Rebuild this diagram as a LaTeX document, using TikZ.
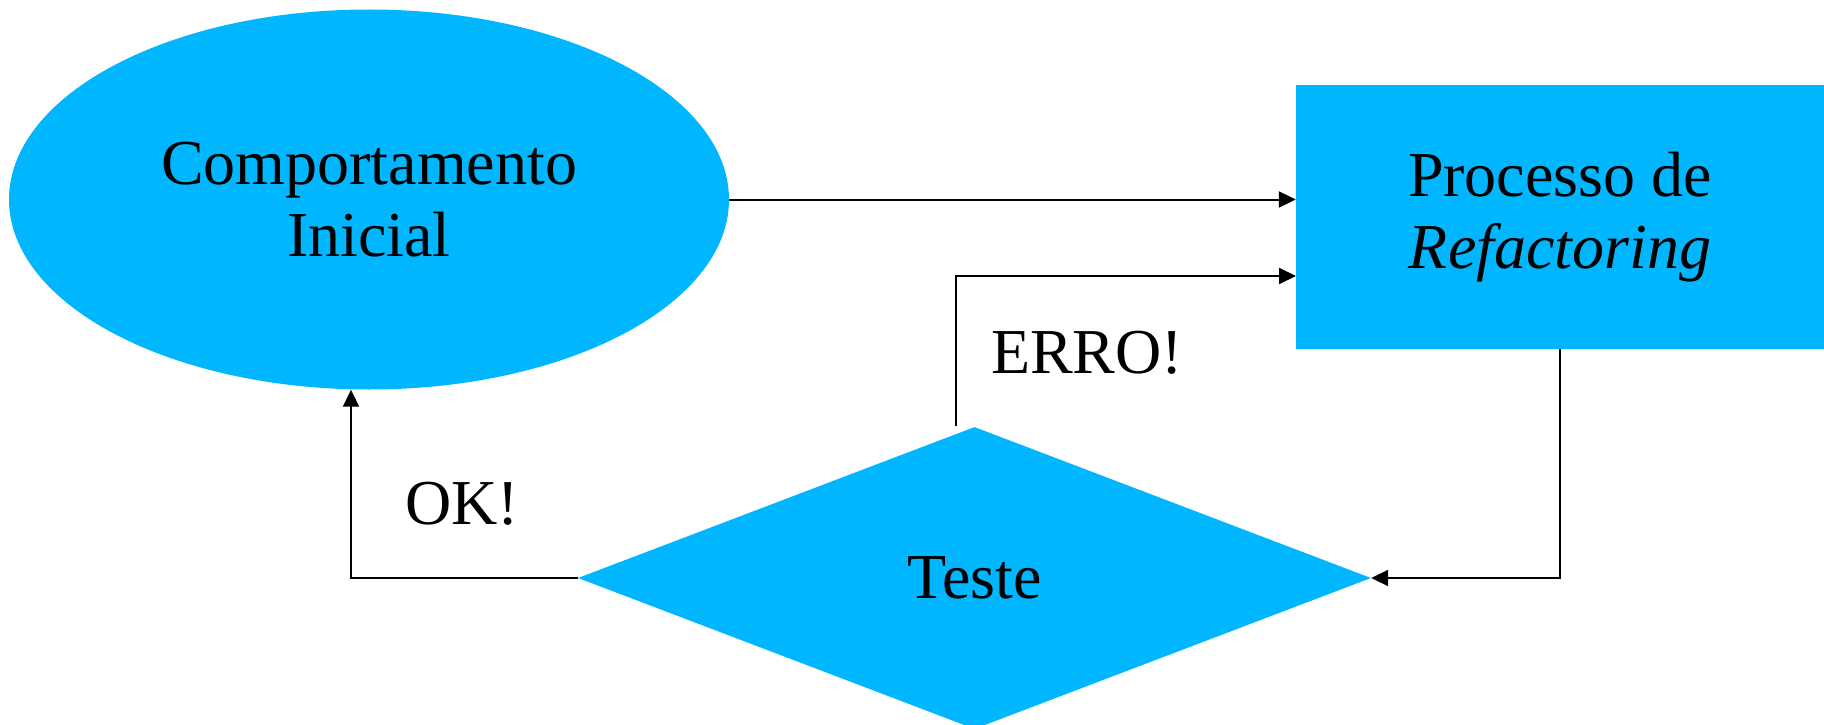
\documentclass[tikz,border=0pt]{standalone}
\usepackage{fontspec}
\setmainfont{Liberation Serif}
\usetikzlibrary{shapes.geometric,arrows.meta}
\definecolor{cy}{RGB}{0,183,255}
\begin{document}
\begin{tikzpicture}[x=1pt,y=-1pt,
  shapebox/.style={fill=cy,draw=none,inner sep=0pt,align=center,font=\fontsize{64}{72}\selectfont},
  lbl/.style={font=\fontsize{64}{72}\selectfont,inner sep=0pt,anchor=base},
  arr/.style={line width=2pt,-{Triangle[length=17pt,width=16pt]}},
  ln/.style={line width=2pt}]
\useasboundingbox (0,0) rectangle (1824,725);
\node[shapebox,ellipse,minimum width=720pt,minimum height=380pt] (ell) at (369,199.5) {Comportamento\\Inicial};
\node[shapebox,rectangle,minimum width=528pt,minimum height=264pt] (rect) at (1560,217) {Processo de\\\textit{Refactoring}};
\node[shapebox,diamond,minimum width=793pt,minimum height=302pt] (dia) at (974.5,578) {Teste};
\node[lbl] (erro) at (1087,373) {ERRO!};
\node[lbl] (ok) at (462,524) {OK!};
\coordinate (errstart) at (956,426);
\coordinate (errend) at (1296,276);
\coordinate (okcorner) at (351,578);
\draw[arr] (ell.east) -- (ell.east -| rect.west);
\draw[arr] (errstart) |- (errend);
\draw[arr] (rect.south) |- (dia.east);
\draw[arr] (dia.west) -- (okcorner) -- (okcorner |- ell.south);
\end{tikzpicture}
\end{document}
